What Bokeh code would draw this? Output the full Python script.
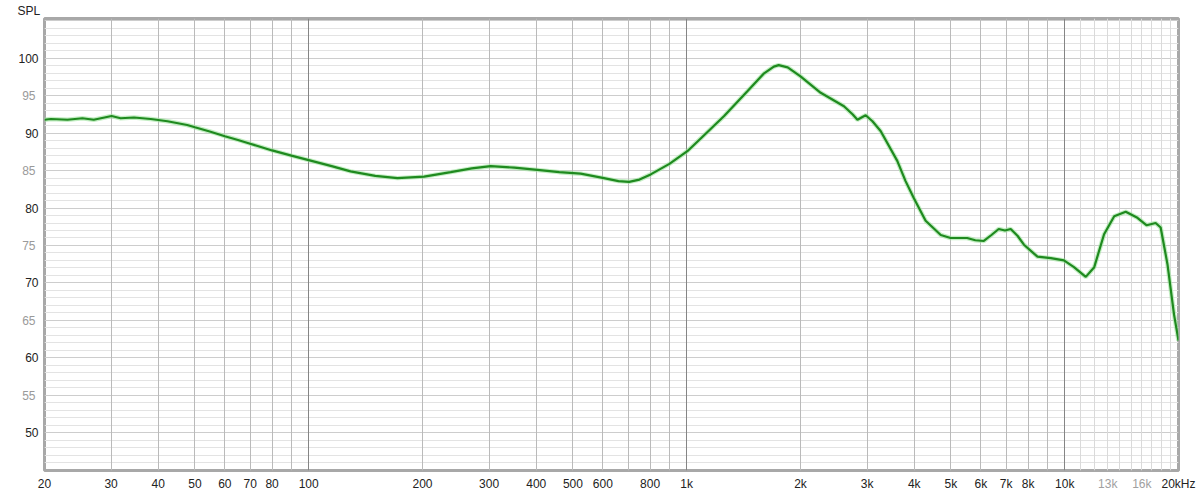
from bokeh.plotting import figure
from bokeh.models import (FixedTicker, Grid, LinearAxis, LogAxis, Range1d, Title)
from bokeh.embed import file_html
from bokeh.resources import INLINE

# ---- data ----
freq = [20, 20.8, 23, 25.2, 27, 30.1, 31.8, 34.5, 38.2, 42.3, 47.7, 50, 55, 60, 65,
        70, 80, 90, 100, 115, 129, 150, 171.7, 202, 237.5, 270, 303, 350,
        402.7, 460, 524, 604, 660, 704, 750, 803, 900, 1004, 1089, 1256, 1447,
        1602, 1700, 1751, 1850, 2000, 2262, 2606, 2750, 2829, 2900, 2975, 3100,
        3258, 3606, 3793, 3990, 4286, 4700, 4990, 5520, 5800, 6110, 6400, 6690,
        6950, 7196, 7500, 7800, 8470, 9190, 9950, 10580, 11370, 11970, 12710,
        13520, 14500, 15570, 16480, 17400, 17940, 18700, 19460, 20000]
spl = [91.8, 91.9, 91.8, 92.0, 91.8, 92.3, 92.0, 92.1, 91.9, 91.6, 91.1, 90.8, 90.2,
       89.6, 89.1, 88.6, 87.7, 87.0, 86.4, 85.6, 84.9, 84.3, 84.0, 84.2, 84.8,
       85.3, 85.6, 85.4, 85.1, 84.8, 84.6, 84.0, 83.6, 83.5, 83.8, 84.5, 85.9, 87.6,
       89.3, 92.3, 95.6, 98.0, 98.9, 99.1, 98.8, 97.6, 95.4, 93.6, 92.5, 91.8, 92.1,
       92.4, 91.6, 90.3, 86.3, 83.6, 81.3, 78.3, 76.4, 76.0, 76.0, 75.7, 75.6, 76.4,
       77.2, 77.0, 77.2, 76.3, 75.1, 73.5, 73.3, 73.0, 72.1, 70.8, 72.1, 76.5, 78.9,
       79.5, 78.7, 77.7, 78.0, 77.4, 72.5, 65.8, 62.3]

x_ticks = [20, 30, 40, 50, 60, 70, 80, 100, 200, 300, 400, 500, 600, 800,
           1000, 2000, 3000, 4000, 5000, 6000, 7000, 8000, 10000, 20000]
x_tick_labels = ["20", "30", "40", "50", "60", "70", "80", "100", "200", "300",
                 "400", "500", "600", "800", "1k", "2k", "3k", "4k", "5k", "6k",
                 "7k", "8k", "10k", "20kHz"]
x_gray_ticks = [13000, 16000]
x_gray_labels = ["13k", "16k"]

y_ticks = [50, 60, 70, 80, 90, 100]
y_gray_ticks = [55, 65, 75, 85, 95]

x_grid_regular = [30, 40, 50, 60, 70, 80, 90, 200, 300, 400, 500, 600, 700, 800, 900,
                  2000, 3000, 4000, 5000, 6000, 7000, 8000, 9000]
x_grid_decade = [100, 1000, 10000]
x_grid_light = [11000, 12000, 13000, 14000, 15000, 16000, 17000, 18000, 19000]
y_grid_major = [50, 55, 60, 65, 70, 75, 80, 85, 90, 95, 100, 105]
y_grid_minor = [v for v in range(45, 106) if v % 5 != 0]

FONT = "Liberation Sans"
Y0, Y1 = 44.93, 105.33

p = figure(width=1200, height=495, x_axis_type="log",
           x_range=Range1d(20, 20000), y_range=Range1d(Y0, Y1),
           output_backend="svg", toolbar_location=None,
           min_border_left=44, min_border_right=22, min_border_top=17,
           min_border_bottom=25)
p.background_fill_color = "white"
p.border_fill_color = "white"
p.outline_line_color = "#a8a8a8"
p.outline_line_width = 3

p.title = Title(text="SPL", align="left", offset=-27, standoff=2,
                text_font=FONT, text_font_size="12px", text_font_style="normal",
                text_color="#222222")

# grids
p.xgrid.visible = False
p.ygrid.visible = False
for ticks, color, dim in [
    (y_grid_minor, "#e3e3e3", 1),
    (y_grid_major, "#cdcdcd", 1),
    (x_grid_light, "#dadada", 0),
    (x_grid_regular, "#bababa", 0),
    (x_grid_decade, "#858585", 0),
]:
    p.add_layout(Grid(dimension=dim, ticker=FixedTicker(ticks=ticks),
                      grid_line_color=color, grid_line_width=1))


def style(ax, color):
    ax.axis_line_color = None
    ax.major_tick_line_color = None
    ax.minor_tick_line_color = None
    ax.major_tick_out = 0
    ax.major_tick_in = 0
    ax.minor_tick_out = 0
    ax.minor_tick_in = 0
    ax.major_label_text_font = FONT
    ax.major_label_text_font_size = "12px"
    ax.major_label_text_color = color


xa = p.xaxis[0]
ya = p.yaxis[0]
style(xa, "#222222")
style(ya, "#222222")
xa.ticker = FixedTicker(ticks=x_ticks)
xa.major_label_overrides = {t: l for t, l in zip(x_ticks, x_tick_labels)}
xa.major_label_standoff = 6
ya.ticker = FixedTicker(ticks=y_ticks)
ya.major_label_standoff = 6

# gray secondary labels: outer axes pulled back onto the same edge
ya2 = LinearAxis(ticker=FixedTicker(ticks=y_gray_ticks))
style(ya2, "#9a9a9a")
ya2.major_label_standoff = -20
p.add_layout(ya2, "left")

xa2 = LogAxis(ticker=FixedTicker(ticks=x_gray_ticks))
style(xa2, "#a0a0a0")
xa2.major_label_overrides = {t: l for t, l in zip(x_gray_ticks, x_gray_labels)}
xa2.major_label_standoff = -17
p.add_layout(xa2, "below")

# curve
p.line(freq, spl, line_color="#9be39b", line_width=4.5, line_alpha=0.6)
p.line(freq, spl, line_color="#1f8a1f", line_width=2.2)

open("out.html", "w").write(file_html(p, INLINE))
